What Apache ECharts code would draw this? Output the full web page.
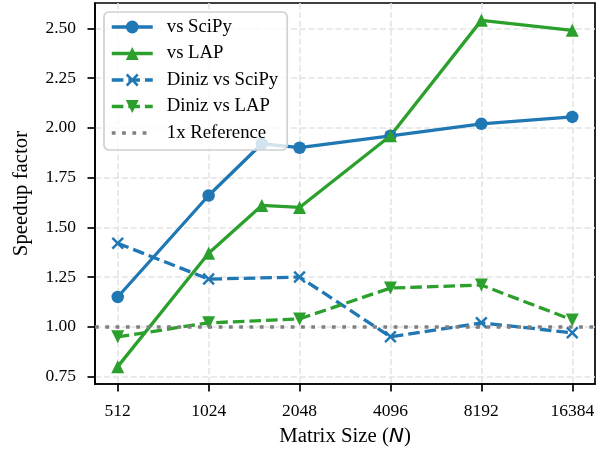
<!DOCTYPE html>
<html>
<head>
<meta charset="utf-8">
<script src="https://cdn.jsdelivr.net/npm/echarts@6/dist/echarts.min.js"></script>
<style>html,body{margin:0;padding:0;background:#fff}#c{width:605px;height:452px}</style>
</head>
<body>
<div id="c"></div>
<script>
// ---- data ----
const matrixSizes = [512, 1024, 1536, 2048, 4096, 8192, 16384];
const vsSciPy     = [1.15, 1.66, 1.92, 1.90, 1.96, 2.02, 2.055];
const vsLAP       = [0.80, 1.37, 1.61, 1.60, 1.96, 2.54, 2.49];
const dinizSizes  = [512, 1024, 2048, 4096, 8192, 16384];
const dinizVsSciPy = [1.42, 1.24, 1.25, 0.95, 1.02, 0.97];
const dinizVsLAP   = [0.95, 1.02, 1.04, 1.195, 1.21, 1.035];
const referenceValue = 1.0;
const xTickSizes = [512, 1024, 2048, 4096, 8192, 16384];
const yTicks = [0.75, 1.00, 1.25, 1.50, 1.75, 2.00, 2.25, 2.50];

const BLUE = '#1f77b4', GREEN = '#2ca02c', GRAY = '#808080';
const FONT = '"Liberation Serif", "Times New Roman", serif';
const lg = v => Math.log2(v);
const pair = (xs, ys) => xs.map((x, i) => [lg(x), ys[i]]);
const X_PATH = 'path://M0,1.4 L1.4,0 L5,3.6 L8.6,0 L10,1.4 L6.4,5 L10,8.6 L8.6,10 L5,6.4 L1.4,10 L0,8.6 L3.6,5 Z';
const LW = 3.3;

const chart = echarts.init(document.getElementById('c'), null, {renderer: 'canvas'});
const gridLine = {show: true, lineStyle: {color: '#e3e3e3', width: 1.5, type: [6.2, 2.7]}};
const axisCommon = {
  axisLine: {show: true, onZero: false, lineStyle: {color: '#000', width: 1.7}},
  axisTick: {show: true, inside: false, length: 7.5, lineStyle: {color: '#000', width: 1.7}},
  splitLine: gridLine,
};
chart.setOption({
  animation: false,
  textStyle: {fontFamily: FONT},
  grid: {left: 95, right: 10, top: 3, bottom: 68, containLabel: false, outerBoundsMode: 'none',
         show: true, borderColor: '#000', borderWidth: 1.7, backgroundColor: 'transparent'},
  xAxis: Object.assign({}, axisCommon, {
    type: 'value',
    min: lg(512) - 0.25, max: lg(16384) + 0.25,
    axisTick: Object.assign({}, axisCommon.axisTick, {customValues: xTickSizes.map(lg)}),
    axisLabel: {customValues: xTickSizes.map(lg), margin: 18, fontSize: 17.5, color: '#000', fontFamily: FONT,
                formatter: v => String(Math.round(Math.pow(2, v)))},
    name: 'Matrix Size ({i|N})', nameLocation: 'middle', nameGap: 42,
    nameTextStyle: {fontSize: 20.8, color: '#000', fontFamily: FONT,
      rich: {i: {fontSize: 20, fontStyle: 'italic', fontFamily: '"DejaVu Sans"', color: '#000'}}}
  }),
  yAxis: Object.assign({}, axisCommon, {
    type: 'value',
    min: 0.7128, max: 2.6272,
    axisTick: Object.assign({}, axisCommon.axisTick, {customValues: yTicks}),
    axisLabel: {customValues: yTicks, margin: 19, fontSize: 17.5, color: '#000', fontFamily: FONT,
                formatter: v => v.toFixed(2)},
    name: 'Speedup factor', nameLocation: 'middle', nameGap: 63,
    nameTextStyle: {fontSize: 20.8, color: '#000', fontFamily: FONT}
  }),
  legend: {
    orient: 'vertical', left: 104, top: 12,
    padding: [5, 9, 7, 6],
    itemWidth: 41, itemHeight: 16, itemGap: 6.5,
    backgroundColor: 'rgba(255,255,255,0.8)',
    borderColor: '#d0d0d0', borderWidth: 1.7, borderRadius: 5,
    lineStyle: {width: LW},
    textStyle: {fontSize: 18.75, color: '#000', fontFamily: FONT, lineHeight: 20, padding: [0, 0, 0, 9]},
    data: ['vs SciPy', 'vs LAP', 'Diniz vs SciPy', 'Diniz vs LAP',
           {name: '1x Reference', itemStyle: {color: 'rgba(0,0,0,0)', borderWidth: 0, opacity: 0},
            lineStyle: {width: 3.5}}]
  },
  series: [
    {name: 'vs SciPy', type: 'line', data: pair(matrixSizes, vsSciPy),
     symbol: 'circle', symbolSize: 12.5, color: BLUE,
     lineStyle: {color: BLUE, width: LW}, itemStyle: {color: BLUE}, z: 3},
    {name: 'vs LAP', type: 'line', data: pair(matrixSizes, vsLAP),
     symbol: 'triangle', symbolSize: 13, color: GREEN,
     lineStyle: {color: GREEN, width: LW}, itemStyle: {color: GREEN}, z: 3},
    {name: 'Diniz vs SciPy', type: 'line', data: pair(dinizSizes, dinizVsSciPy),
     symbol: X_PATH, symbolSize: 12.5, color: BLUE,
     lineStyle: {color: BLUE, width: LW, type: [11.6, 5]}, itemStyle: {color: BLUE}, z: 3},
    {name: 'Diniz vs LAP', type: 'line', data: pair(dinizSizes, dinizVsLAP),
     symbol: 'triangle', symbolRotate: 180, symbolSize: 13, color: GREEN,
     lineStyle: {color: GREEN, width: LW, type: [11.6, 5]}, itemStyle: {color: GREEN}, z: 3},
    {name: '1x Reference', type: 'line', data: [], symbol: 'none', color: GRAY,
     lineStyle: {color: GRAY, width: 3.5, type: [3.8, 6.5]}, itemStyle: {color: GRAY}, z: 2,
     markLine: {silent: true, symbol: 'none', label: {show: false},
       lineStyle: {color: GRAY, width: 3.5, type: [3.8, 6.5]},
       data: [{yAxis: referenceValue}]}}
  ]
});
</script>
</body>
</html>
